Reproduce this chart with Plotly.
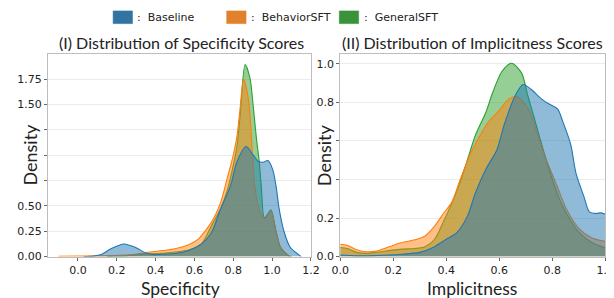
import plotly.graph_objects as go

# ---------------- data ----------------
series_names = ["Baseline", "BehaviorSFT", "GeneralSFT"]

# (I) Specificity KDE curves
spec_base_x = [0.03, 0.08, 0.12, 0.17, 0.236, 0.30, 0.35, 0.39, 0.45, 0.50, 0.57, 0.636, 0.686, 0.736, 0.786,
               0.82, 0.866, 0.903, 0.928, 0.953, 0.978, 1.003, 1.02, 1.036, 1.061, 1.094, 1.136, 1.15]
spec_base_y = [0.0, 0.005, 0.02, 0.077, 0.125, 0.087, 0.035, 0.02, 0.025, 0.03, 0.06, 0.125, 0.23, 0.475, 0.70,
               0.94, 1.085, 1.0, 0.94, 0.93, 0.947, 0.86, 0.70, 0.475, 0.25, 0.09, 0.02, 0.0]

spec_beh_x = [-0.10, 0.0, 0.17, 0.286, 0.37, 0.436, 0.50, 0.57, 0.62, 0.67, 0.70, 0.736, 0.77, 0.80, 0.82,
              0.836, 0.853, 0.878, 0.894, 0.911, 0.933, 0.961, 0.994, 1.02, 1.044, 1.078, 1.10]
spec_beh_y = [0.004, 0.006, 0.01, 0.02, 0.045, 0.06, 0.077, 0.118, 0.173, 0.29, 0.38, 0.54, 0.78, 1.0, 1.2,
              1.48, 1.747, 1.55, 1.165, 0.69, 0.47, 0.37, 0.45, 0.25, 0.09, 0.02, 0.0]

spec_gen_x = [0.15, 0.25, 0.336, 0.40, 0.45, 0.50, 0.57, 0.636, 0.686, 0.736, 0.77, 0.80, 0.82, 0.836, 0.861,
              0.886, 0.903, 0.919, 0.933, 0.944, 0.961, 0.994, 1.02, 1.044, 1.078, 1.09]
spec_gen_y = [0.0, 0.01, 0.025, 0.03, 0.035, 0.045, 0.065, 0.125, 0.30, 0.48, 0.66, 0.90, 1.10, 1.40, 1.894,
              1.76, 1.48, 1.17, 0.95, 0.70, 0.38, 0.46, 0.25, 0.09, 0.02, 0.0]

# (II) Implicitness KDE curves
impl_base_x = [0.0, 0.06, 0.13, 0.23, 0.30, 0.35, 0.40, 0.44, 0.48, 0.51, 0.55, 0.59, 0.62, 0.66, 0.69,
               0.72, 0.76, 0.79, 0.82, 0.84, 0.87, 0.89, 0.92, 0.94, 0.965, 0.985, 1.0]
impl_base_y = [0.008, 0.004, 0.005, 0.012, 0.022, 0.047, 0.09, 0.125, 0.21, 0.33, 0.455, 0.55, 0.69, 0.835, 0.893,
               0.868, 0.817, 0.79, 0.766, 0.70, 0.58, 0.43, 0.31, 0.232, 0.224, 0.227, 0.22]

impl_beh_x = [0.0, 0.026, 0.062, 0.10, 0.136, 0.184, 0.233, 0.282, 0.32, 0.356, 0.39, 0.42, 0.45, 0.49, 0.525,
              0.56, 0.60, 0.635, 0.666, 0.71, 0.745, 0.78, 0.82, 0.856, 0.90, 0.95, 1.0]
impl_beh_y = [0.064, 0.059, 0.036, 0.025, 0.029, 0.051, 0.073, 0.087, 0.107, 0.158, 0.225, 0.28, 0.39, 0.53, 0.622,
              0.70, 0.758, 0.817, 0.83, 0.766, 0.63, 0.495, 0.36, 0.24, 0.147, 0.097, 0.08]

impl_gen_x = [0.0, 0.026, 0.062, 0.10, 0.136, 0.184, 0.233, 0.282, 0.32, 0.356, 0.39, 0.415, 0.45, 0.49, 0.51,
              0.55, 0.575, 0.61, 0.647, 0.684, 0.708, 0.733, 0.757, 0.794, 0.83, 0.868, 0.904, 0.953, 1.0]
impl_gen_y = [0.047, 0.042, 0.022, 0.017, 0.022, 0.031, 0.039, 0.042, 0.051, 0.09, 0.183, 0.258, 0.376, 0.546, 0.63,
              0.75, 0.85, 0.96, 1.003, 0.953, 0.834, 0.715, 0.597, 0.427, 0.29, 0.19, 0.122, 0.071, 0.046]

spec_ticks = [0.0, 0.25, 0.5, 0.75, 1.0, 1.25, 1.5, 1.75]
spec_ticktext = ["0.00", "0.25", "0.50", "", "", "", "1.50", "1.75"]
impl_ticks = [0.0, 0.2, 0.4, 0.6, 0.8, 1.0]
impl_ticktext = ["0.0", "0.2", "", "", "0.8", "1.0"]
spec_xticks = [0.0, 0.2, 0.4, 0.6, 0.8, 1.0, 1.2]
impl_xticks = [0.0, 0.2, 0.4, 0.6, 0.8, 1.0]

# ---------------- style ----------------
W, H = 614, 298
def px(x): return x / W
def py(y): return 1 - y / H

line_cols = {"Baseline": "#1f77b4", "BehaviorSFT": "#ff7f0e", "GeneralSFT": "#2ca02c"}
fill_cols = {"Baseline": "rgba(31,119,180,0.5)", "BehaviorSFT": "rgba(255,127,14,0.5)",
             "GeneralSFT": "rgba(44,160,44,0.5)"}
patch_cols = {"Baseline": "#3274a1", "BehaviorSFT": "#e1812c", "GeneralSFT": "#3a923a"}

TICKFONT = dict(family="DejaVu Sans", size=11, color="#222222")
LABFONT = "Lato"

fig = go.Figure()

panels = [
    ("x", "y", {"Baseline": (spec_base_x, spec_base_y), "BehaviorSFT": (spec_beh_x, spec_beh_y),
                "GeneralSFT": (spec_gen_x, spec_gen_y)}),
    ("x2", "y2", {"Baseline": (impl_base_x, impl_base_y), "BehaviorSFT": (impl_beh_x, impl_beh_y),
                  "GeneralSFT": (impl_gen_x, impl_gen_y)}),
]
for xa, ya, d in panels:
    for name in ["GeneralSFT", "BehaviorSFT", "Baseline"]:
        xs, ys = d[name]
        fig.add_trace(go.Scatter(x=xs, y=ys, xaxis=xa, yaxis=ya, mode="lines",
                                 line=dict(color=line_cols[name], width=1.1, shape="spline", smoothing=0.8),
                                 fill="tozeroy", fillcolor=fill_cols[name], showlegend=False,
                                 name=name, hoverinfo="skip"))

ydom = [py(254.6), py(47.5)]
axis_common = dict(showline=True, mirror=True, linecolor="#bdbdbd", linewidth=1, ticks="outside",
                   ticklen=3, tickcolor="#666666", tickfont=TICKFONT, zeroline=False)
fig.update_layout(
    width=W, height=H, margin=dict(l=0, r=0, t=0, b=0),
    paper_bgcolor="white", plot_bgcolor="white",
    xaxis=dict(domain=[px(32), px(303)], range=[-0.154, 1.201], tickvals=spec_xticks,
               ticktext=[f"{v:.1f}" for v in spec_xticks], showgrid=False, anchor="y", **axis_common),
    yaxis=dict(domain=ydom, range=[0, 1.993], tickvals=spec_ticks, ticktext=spec_ticktext,
               showgrid=True, gridcolor="#ebebeb", gridwidth=1, anchor="x", **axis_common),
    xaxis2=dict(domain=[px(333), px(606)], range=[0, 1.0], tickvals=impl_xticks,
                ticktext=[f"{v:.1f}" for v in impl_xticks], showgrid=False, anchor="y2", **axis_common),
    yaxis2=dict(domain=ydom, range=[0, 1.049], tickvals=impl_ticks, ticktext=impl_ticktext,
                showgrid=True, gridcolor="#ebebeb", gridwidth=1, anchor="x2", **axis_common),
)

ann = []
# titles
ann.append(dict(text="(I) Distribution of Specificity Scores", x=px(169), y=py(35.5),
                font=dict(family=LABFONT, size=16, color="#222222")))
ann.append(dict(text="(II) Distribution of Implicitness Scores", x=px(469), y=py(35.5),
                font=dict(family=LABFONT, size=16, color="#222222")))
# axis labels
ann.append(dict(text="Specificity", x=px(168), y=py(287), font=dict(family=LABFONT, size=17.5, color="#222222")))
ann.append(dict(text="Implicitness", x=px(469), y=py(287), font=dict(family=LABFONT, size=17.5, color="#222222")))
ann.append(dict(text="Density", x=px(13.5), y=py(150), textangle=-90,
                font=dict(family=LABFONT, size=18, color="#222222")))
ann.append(dict(text="Density", x=px(317), y=py(151), textangle=-90,
                font=dict(family=LABFONT, size=18, color="#222222")))
for a in ann:
    a.update(xref="paper", yref="paper", showarrow=False, xanchor="center", yanchor="middle")

# legend (patches + labels)
shapes = []
leg_x = {"Baseline": 99, "BehaviorSFT": 216, "GeneralSFT": 332}
for name in series_names:
    x0 = leg_x[name]
    shapes.append(dict(type="rect", xref="paper", yref="paper", x0=px(x0), x1=px(x0 + 20),
                       y0=py(16), y1=py(3), fillcolor=patch_cols[name],
                       line=dict(color=patch_cols[name], width=0.5)))
    ann.append(dict(text=":  " + name, xref="paper", yref="paper", x=px(x0 + 23), y=py(9.8),
                    xanchor="left", yanchor="middle", showarrow=False,
                    font=dict(family="DejaVu Sans", size=11, color="#222222")))

fig.update_layout(annotations=ann, shapes=shapes)
fig.write_html("out.html")
